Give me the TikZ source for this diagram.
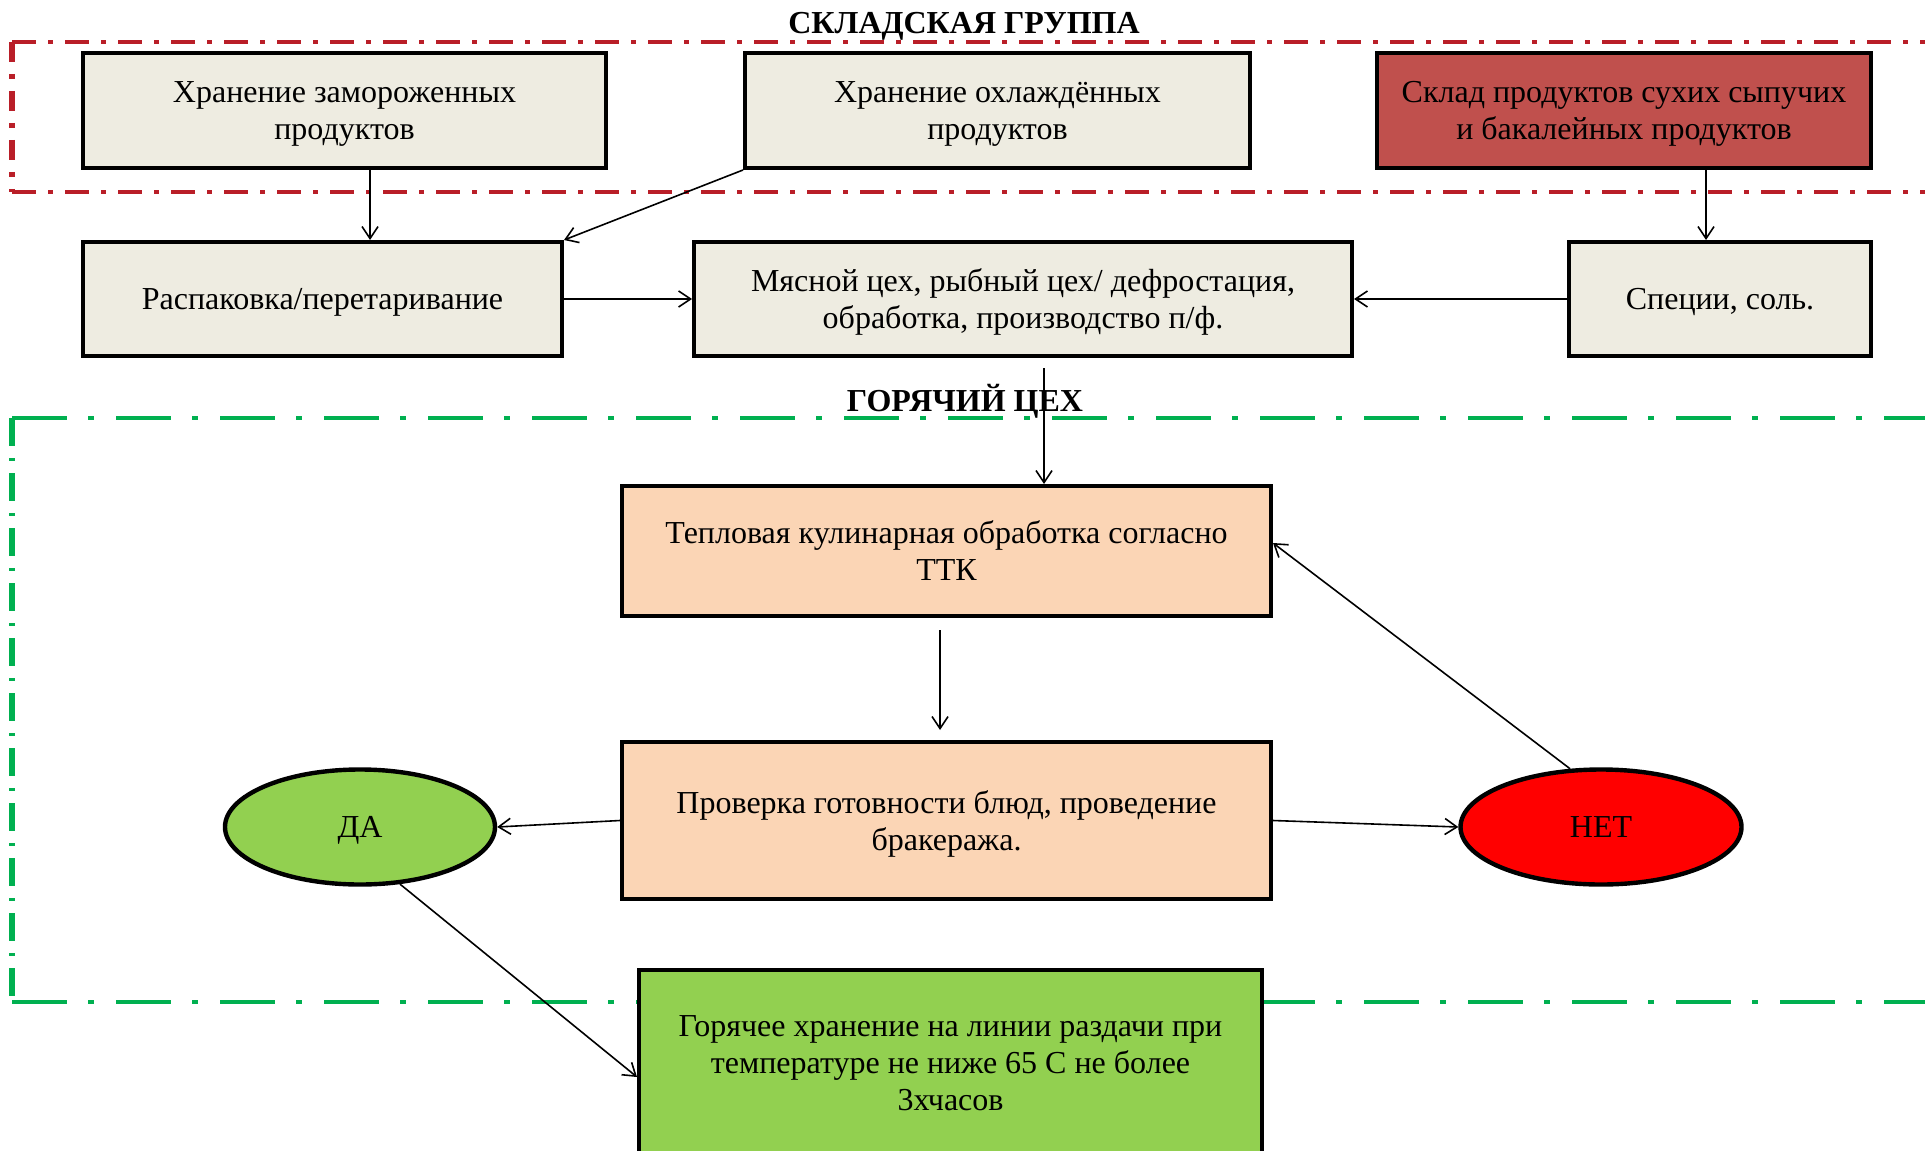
\documentclass[tikz,border=0pt]{standalone}
\usepackage{fontspec}
\setmainfont{Liberation Serif}
\usetikzlibrary{arrows.meta}
\usetikzlibrary{shapes.geometric}
\definecolor{beige}{HTML}{EEECE1}
\definecolor{brickred}{HTML}{C0504D}
\definecolor{peach}{HTML}{FBD5B5}
\definecolor{lightgreen}{HTML}{92D050}
\definecolor{zonered}{RGB}{185,30,40}
\definecolor{zonegreen}{RGB}{0,176,80}

\begin{document}
\begin{tikzpicture}[x=0.5pt,y=-0.5pt,
  font=\fontsize{16}{18.5}\selectfont,
  blok/.style={draw,line width=2pt,align=center,minimum height=57.5pt,fill=beige,text depth=-4pt},
  oval/.style={ellipse,draw,line width=2.2pt,minimum height=57.5pt,text depth=-4pt},
  title/.style={font=\fontsize{16}{18.5}\selectfont\bfseries},
  arr/.style={-{Straight Barb[length=6pt,width=8pt]},line width=0.8pt}]
\useasboundingbox (0,0) rectangle (1925,1150);

% zones
\draw[zonered,line width=2pt,dash pattern=on 12pt off 6pt on 2.5pt off 6pt] (12,42)--(1930,42) (12,192)--(1930,192);
\draw[zonered,line width=3pt,dash pattern=on 10pt off 6pt on 2.5pt off 6pt] (12,42)--(12,192);
\draw[zonegreen,line width=2pt,dash pattern=on 27.5pt off 10.5pt on 3pt off 11pt] (12,418)--(1930,418) (12,1002)--(1930,1002);
\draw[zonegreen,line width=3pt,dash pattern=on 14pt off 6pt on 1.5pt off 6pt] (12,418)--(12,1002);
\node[title] (t1) at (964,26) {СКЛАДСКАЯ ГРУППА};
\node[title] (t2) at (965,401) {ГОРЯЧИЙ ЦЕХ};

% boxes
\node[blok,minimum width=261.5pt] (frozen) at (344.5,110.5) {Хранение замороженных\\продуктов};
\node[blok,minimum width=252.5pt] (chilled) at (997.5,110.5) {Хранение охлаждённых\\продуктов};
\node[blok,minimum width=247pt,fill=brickred] (dry) at (1624,110.5) {Склад продуктов сухих сыпучих\\и бакалейных продуктов};
\node[blok,minimum width=239.5pt,minimum height=57pt] (unpack) at (322.5,299) {Распаковка/перетаривание};
\node[blok,minimum width=329pt,minimum height=57pt] (meat) at (1023,299) {Мясной цех, рыбный цех/ дефростация,\\обработка, производство п/ф.};
\node[blok,minimum width=151pt,minimum height=57pt] (spice) at (1720,299) {Специи, соль.};
\node[blok,minimum width=324.5pt,minimum height=65pt,fill=peach] (heat) at (946.5,551) {Тепловая кулинарная обработка согласно\\ТТК};
\node[blok,minimum width=324.5pt,minimum height=78.5pt,fill=peach,text depth=-2.5pt] (check) at (946.5,820.5) {Проверка готовности блюд, проведение\\бракеража.};
\node[oval,minimum width=135pt,fill=lightgreen] (yes) at (360,827) {ДА};
\node[oval,minimum width=140.5pt,fill=red] (no) at (1601,827) {НЕТ};
\node[blok,minimum width=311.5pt,minimum height=93pt,fill=lightgreen,text depth=0pt] (serve) at (950.5,1063) {Горячее хранение на линии раздачи при\\температуре не ниже 65 С не более\\3хчасов};

% arrows
\coordinate (xa) at (370,0);
\coordinate (xc) at (1706,0);
\coordinate (xe) at (1044,0);
\coordinate (xg) at (940,0);
\draw[arr] (frozen.south -| xa) -- (unpack.north -| xa);
\draw[arr] (chilled.south west) -- (unpack.north east);
\draw[arr] (unpack.east) -- (meat.west);
\draw[arr] (dry.south -| xc) -- (spice.north -| xc);
\draw[arr] (spice.west) -- (meat.east);
\draw[arr,shorten <=5pt] (meat.south -| xe) -- (heat.north -| xe);
\draw[arr,shorten <=6pt,shorten >=5pt] (heat.south -| xg) -- (check.north -| xg);
\draw[arr] (check.west) -- (yes.east);
\draw[arr] (check.east) -- (no.west);
\draw[arr] (no.118) -- ([yshift=4pt]heat.east);
\draw[arr] (yes.305) -- ([yshift=-7pt]serve.west);
\end{tikzpicture}
\end{document}
